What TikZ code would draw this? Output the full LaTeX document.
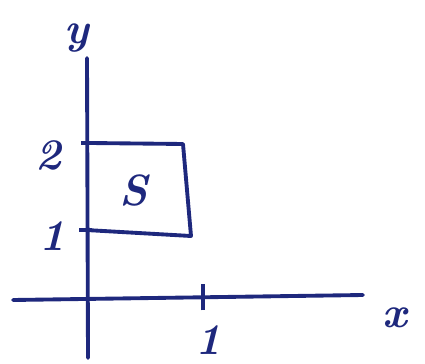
\documentclass[tikz,border=0pt]{standalone}
\usepackage{xcolor}
\usepackage{tikz}
\definecolor{pen}{RGB}{30,40,125}

\begin{document}
\begin{tikzpicture}[
        x=0.02cm, y=-0.02cm,
        axis/.style={draw=pen, line width=2.2pt, line cap=round},
        region/.style={draw=pen, line width=2.2pt, line join=round},
        tick/.style={draw=pen, line width=2.2pt},
        lbl/.style={text=pen, font=\Huge\bfseries\itshape, inner sep=0pt}
    ]
        \useasboundingbox (0,0) rectangle (425,364);

        % axes ends
        \coordinate (xstart) at (13,300);
        \coordinate (xend) at (363,295);
        \coordinate (ytop) at (87,58);
        \coordinate (ybot) at (88,358);

        \draw[axis] (xstart) -- (xend);
        \draw[axis] (ytop) -- (ybot);

        % corners of S
        \coordinate (tl) at (90,143);
        \coordinate (tr) at (183,144);
        \coordinate (br) at (191,236);
        \coordinate (bl) at (86,230);

        \draw[region] (tl) -- (tr) -- (br) -- (bl);

        % ticks
        \coordinate (xone) at (203,298);
        \draw[tick] ([yshift=-7]xone) -- ([yshift=8]xone);
        \draw[tick] (81,143) -- (95,143);
        \draw[tick] (79,230) -- (92,230);

        % labels
        \node[lbl] (ylab) at (77,38) {y};
        \node[lbl] (xlab) at (395,318) {x};
        \node[lbl] (two) at (48,155) {2};
        \node[lbl] (one) at (52,236) {1};
        \node[lbl] (xone lab) at (208,340) {1};
        \node[lbl] (S) at (134,191) {S};
    \end{tikzpicture}
\end{document}
